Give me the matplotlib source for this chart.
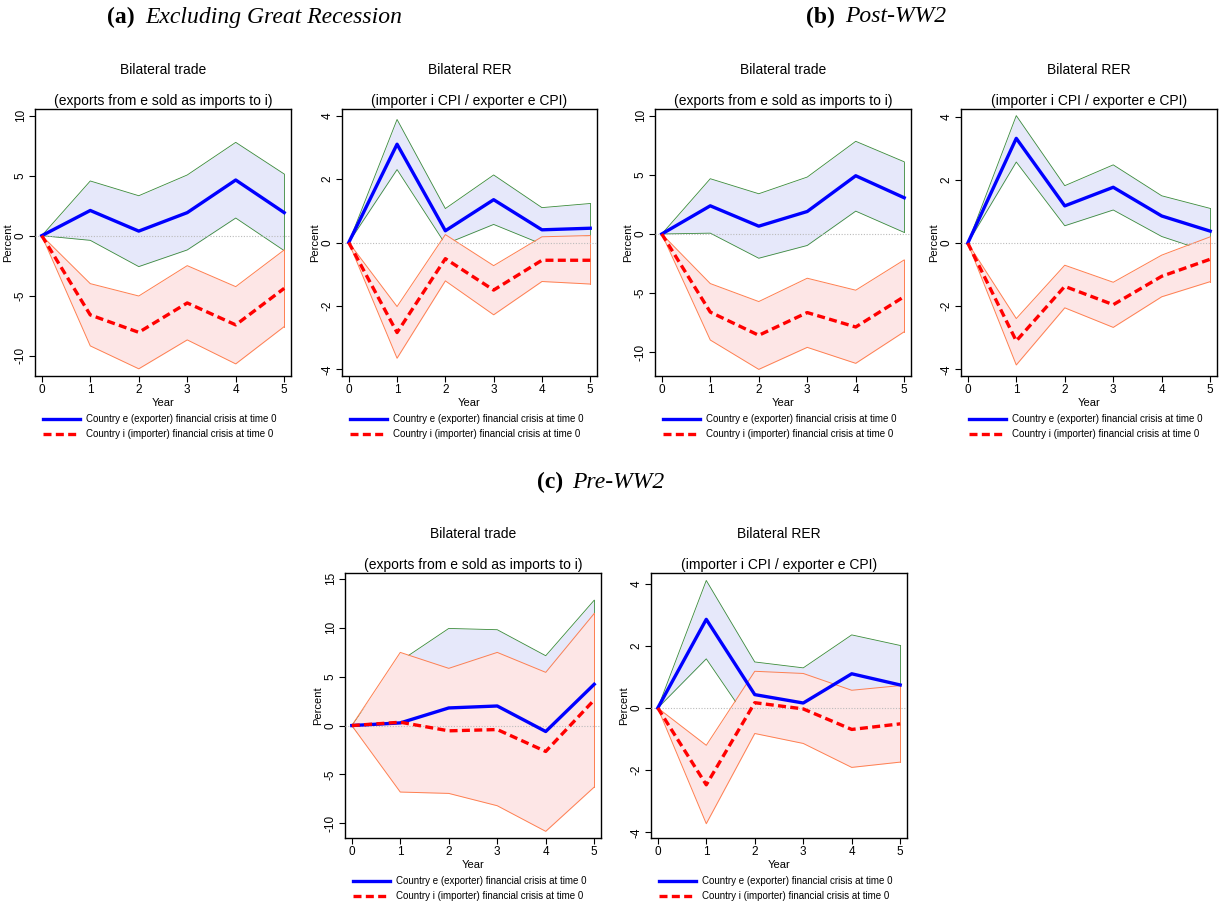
import numpy as np
import matplotlib
matplotlib.use("Agg")
import matplotlib.pyplot as plt

# ============================================
# DATA
# ============================================

years = [0, 1, 2, 3, 4, 5]

# (a) Excluding Great Recession - bilateral trade
a_trade_e = [0, 2.1, 0.38, 1.92, 4.64, 1.92]
a_trade_e_hi = [0, 4.56, 3.33, 5.06, 7.78, 5.14]
a_trade_e_lo = [0, -0.39, -2.58, -1.19, 1.47, -1.25]
a_trade_i = [0, -6.61, -8.06, -5.61, -7.44, -4.39]
a_trade_i_hi = [0, -4.0, -5.03, -2.5, -4.25, -1.19]
a_trade_i_lo = [0, -9.19, -11.1, -8.69, -10.69, -7.58]

# (a) Excluding Great Recession - bilateral RER
a_rer_e = [0, 3.1, 0.37, 1.35, 0.4, 0.45]
a_rer_e_hi = [0, 3.88, 1.07, 2.13, 1.1, 1.23]
a_rer_e_lo = [0, 2.3, -0.05, 0.57, -0.05, 0.2]
a_rer_i = [0, -2.84, -0.51, -1.5, -0.56, -0.56]
a_rer_i_hi = [0, -2.02, 0.25, -0.73, 0.18, 0.22]
a_rer_i_lo = [0, -3.65, -1.21, -2.28, -1.23, -1.31]

# (b) Post-WW2 - bilateral trade
b_trade_e = [0, 2.38, 0.66, 1.9, 4.92, 3.06]
b_trade_e_hi = [0, 4.67, 3.4, 4.81, 7.83, 6.1]
b_trade_e_lo = [0, 0.07, -2.05, -0.97, 1.93, 0.13]
b_trade_i = [0, -6.6, -8.56, -6.64, -7.86, -5.29]
b_trade_i_hi = [0, -4.19, -5.71, -3.74, -4.75, -2.19]
b_trade_i_lo = [0, -8.96, -11.44, -9.58, -10.93, -8.26]

# (b) Post-WW2 - bilateral RER
b_rer_e = [0, 3.32, 1.18, 1.77, 0.86, 0.38]
b_rer_e_hi = [0, 4.04, 1.82, 2.48, 1.5, 1.1]
b_rer_e_lo = [0, 2.57, 0.55, 1.05, 0.21, -0.3]
b_rer_i = [0, -3.1, -1.37, -1.95, -1.05, -0.51]
b_rer_i_hi = [0, -2.39, -0.7, -1.24, -0.38, 0.2]
b_rer_i_lo = [0, -3.86, -2.05, -2.67, -1.7, -1.22]

# (c) Pre-WW2 - bilateral trade
c_trade_e = [0, 0.27, 1.8, 2.0, -0.61, 4.22]
c_trade_e_hi = [0, 6.6, 9.93, 9.8, 7.14, 12.82]
c_trade_e_lo = [0, -6.0, -6.4, -5.8, -8.4, -4.4]
c_trade_i = [0, 0.34, -0.54, -0.41, -2.65, 2.62]
c_trade_i_hi = [0, 7.48, 5.85, 7.48, 5.44, 11.46]
c_trade_i_lo = [0, -6.8, -6.94, -8.2, -10.82, -6.29]

# (c) Pre-WW2 - bilateral RER
c_rer_e = [0, 2.85, 0.43, 0.16, 1.1, 0.74]
c_rer_e_hi = [0, 4.1, 1.48, 1.29, 2.35, 2.01]
c_rer_e_lo = [0, 1.58, -0.7, -0.9, -0.2, -0.5]
c_rer_i = [0, -2.47, 0.17, -0.03, -0.69, -0.51]
c_rer_i_hi = [0, -1.2, 1.18, 1.11, 0.57, 0.72]
c_rer_i_lo = [0, -3.72, -0.82, -1.14, -1.91, -1.74]

trade_ticks_ab = [-10, -5, 0, 5, 10]
trade_ticks_c = [-10, -5, 0, 5, 10, 15]
rer_ticks = [-4, -2, 0, 2, 4]

title_trade = "Bilateral trade"
sub_trade = "(exports from e sold as imports to i)"
title_rer = "Bilateral RER"
sub_rer = "(importer i CPI / exporter e CPI)"
legend_e = "Country e (exporter) financial crisis at time 0"
legend_i = "Country i (importer) financial crisis at time 0"

# ============================================
# FIGURE
# ============================================

W, H = 1228, 909
fig = plt.figure(figsize=(W / 100, H / 100), dpi=100)
plt.rcParams['font.family'] = ['Liberation Sans', 'DejaVu Sans']
plt.rcParams['axes.unicode_minus'] = False


def px_axes(left, top, right, bottom):
    return fig.add_axes([left / W, 1 - bottom / H, (right - left) / W, (bottom - top) / H])


def panel(box, e, e_hi, e_lo, i, i_hi, i_lo, yticks, ylim, title, sub):
    left, top, right, bottom = box
    ax = px_axes(left, top, right, bottom)

    # exporter band (green edges), importer band drawn on top (coral edges)
    ax.fill_between(years, e_lo, e_hi, color='#e6e8fa', lw=0, zorder=1)
    ax.plot(years, e_hi, color='#3a8a3a', lw=0.6, zorder=2)
    ax.plot(years, e_lo, color='#3a8a3a', lw=0.6, zorder=2)
    ax.plot([5, 5], [e_lo[-1], e_hi[-1]], color='#3a8a3a', lw=0.6, zorder=2)

    ax.fill_between(years, i_lo, i_hi, color='#fde6e6', lw=0, zorder=3)
    ax.plot(years, i_hi, color='#ff7f50', lw=0.7, zorder=4)
    ax.plot(years, i_lo, color='#ff7f50', lw=0.7, zorder=4)
    ax.plot([5, 5], [i_lo[-1], i_hi[-1]], color='#ff7f50', lw=0.7, zorder=4)

    ax.axhline(0, color='#bbbbbb', lw=0.8, ls=(0, (1, 1.5)), zorder=5)

    l1, = ax.plot(years, e, color='#0000ff', lw=2.4, zorder=6)
    l2, = ax.plot(years, i, color='#ff0000', lw=2.4, ls=(0, (2.4, 1.3)), zorder=7)

    ax.set_xlim(-0.14, 5.14)
    ax.set_ylim(*ylim)
    ax.set_xticks(years)
    ax.set_yticks(yticks)
    ax.tick_params(labelsize=8.5, length=4, width=0.8, direction='out', pad=2)
    for t in ax.get_yticklabels():
        t.set_rotation(90)
        t.set_va('center')
    for s in ax.spines.values():
        s.set_linewidth(1.0)
    ax.set_xlabel("Year", fontsize=8, labelpad=1)
    ax.set_ylabel("Percent", fontsize=8, labelpad=1)

    cx = (left + right) / 2
    fig.text(cx / W, 1 - (top - 39) / H, title, ha='center', va='center', fontsize=10)
    fig.text(cx / W, 1 - (top - 8) / H, sub, ha='center', va='center', fontsize=10)

    ax.legend([l1, l2], [legend_e, legend_i], loc='upper left',
              bbox_to_anchor=((left + 8) / W, 1 - (bottom + 38) / H),
              bbox_transform=fig.transFigure,
              frameon=False, fontsize=7, handlelength=3.8, handletextpad=0.6,
              labelspacing=0.55, borderaxespad=0, borderpad=0)
    return ax


panel((35, 109, 291, 376), a_trade_e, a_trade_e_hi, a_trade_e_lo,
      a_trade_i, a_trade_i_hi, a_trade_i_lo, trade_ticks_ab, (-11.7, 10.56), title_trade, sub_trade)
panel((342, 109, 597, 376), a_rer_e, a_rer_e_hi, a_rer_e_lo,
      a_rer_i, a_rer_i_hi, a_rer_i_lo, rer_ticks, (-4.21, 4.21), title_rer, sub_rer)
panel((655, 109, 911, 376), b_trade_e, b_trade_e_hi, b_trade_e_lo,
      b_trade_i, b_trade_i_hi, b_trade_i_lo, trade_ticks_ab, (-12.0, 10.56), title_trade, sub_trade)
panel((961, 109, 1217, 376), b_rer_e, b_rer_e_hi, b_rer_e_lo,
      b_rer_i, b_rer_i_hi, b_rer_i_lo, rer_ticks, (-4.21, 4.25), title_rer, sub_rer)
panel((345, 573, 601, 838), c_trade_e, c_trade_e_hi, c_trade_e_lo,
      c_trade_i, c_trade_i_hi, c_trade_i_lo, trade_ticks_c, (-11.5, 15.6), title_trade, sub_trade)
panel((651, 573, 907, 838), c_rer_e, c_rer_e_hi, c_rer_e_lo,
      c_rer_i, c_rer_i_hi, c_rer_i_lo, rer_ticks, (-4.18, 4.34), title_rer, sub_rer)

# panel group titles
serif = ['Liberation Serif', 'DejaVu Serif']
for x_lab, x_txt, y, lab, txt in [(135, 145, 17, "(a)", "Excluding Great Recession"),
                                  (835, 845, 17, "(b)", "Post-WW2"),
                                  (563, 572, 482, "(c)", "Pre-WW2")]:
    fig.text(x_lab / W, 1 - y / H, lab, ha='right', va='center', fontsize=17,
             fontweight='bold', family=serif)
    fig.text(x_txt / W, 1 - y / H, txt, ha='left', va='center', fontsize=17,
             fontstyle='italic', family=serif)

fig.savefig("out.png", dpi=100)
